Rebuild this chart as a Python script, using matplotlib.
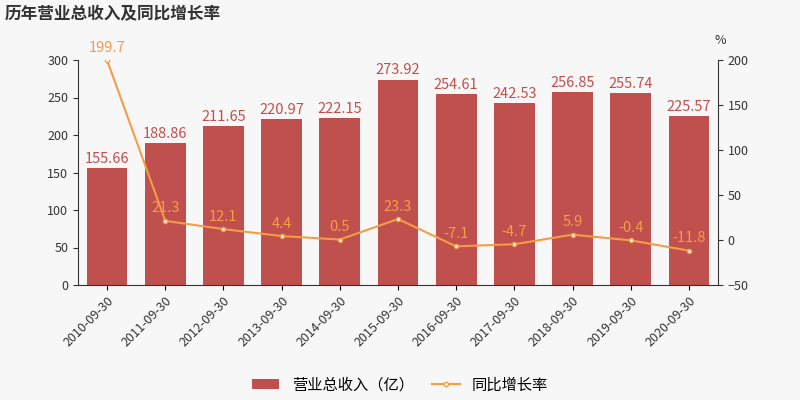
import matplotlib
matplotlib.use("Agg")
import matplotlib.pyplot as plt
import numpy as np

plt.rcParams['font.family'] = ['Noto Sans CJK SC', 'DejaVu Sans']

dates = ["2010-09-30","2011-09-30","2012-09-30","2013-09-30","2014-09-30","2015-09-30",
         "2016-09-30","2017-09-30","2018-09-30","2019-09-30","2020-09-30"]
revenue = [155.66,188.86,211.65,220.97,222.15,273.92,254.61,242.53,256.85,255.74,225.57]
growth = [199.7,21.3,12.1,4.4,0.5,23.3,-7.1,-4.7,5.9,-0.4,-11.8]

bg = "#f7f7f7"
bar_c = "#c0504d"
line_c = "#f59c47"

fig = plt.figure(figsize=(8,4), dpi=100, facecolor=bg)
ax = fig.add_axes([0.0975, 0.2875, 0.8, 0.5625], facecolor=bg)
x = np.arange(len(dates))
ax.bar(x, revenue, width=0.7, color=bar_c, label="营业总收入（亿）")
ax.set_ylim(0,300)
ax.set_yticks(range(0,301,50))
ax.set_xlim(-0.5, len(dates)-0.5)
ax.set_xticks(x)
ax.set_xticklabels(dates, rotation=45, ha="right", rotation_mode="anchor", fontsize=9, color="#333")
for xi, v in zip(x, revenue):
    ax.text(xi, v+3, f"{v:.2f}", ha="center", va="bottom", color=bar_c, fontsize=10.5)
for s in ["top","right"]:
    ax.spines[s].set_visible(False)
ax.spines["left"].set_color("#333")
ax.spines["bottom"].set_color("#333")
ax.tick_params(axis="y", labelsize=9, colors="#333")

ax2 = ax.twinx()
ax2.plot(x, growth, color=line_c, lw=1.5, marker="o", markersize=3, markerfacecolor="white",
         markeredgecolor=line_c, label="同比增长率")
ax2.set_ylim(-50,200)
ax2.set_yticks(range(-50,201,50))
for s in ["top","left","bottom"]:
    ax2.spines[s].set_visible(False)
ax2.spines["right"].set_color("#333")
ax2.tick_params(axis="y", labelsize=9, colors="#333")
for xi, v in zip(x, growth):
    ax2.text(xi, v+6, f"{v}", ha="center", va="bottom", color=line_c, fontsize=10.5)

fig.text(0.006, 0.965, "历年营业总收入及同比增长率", fontsize=12, fontweight="bold", color="#333", va="center")
fig.text(0.9, 0.9, "%", fontsize=9, color="#333", ha="center", va="center")

h1, l1 = ax.get_legend_handles_labels()
h2, l2 = ax2.get_legend_handles_labels()
fig.legend(h1+h2, l1+l2, loc="center", bbox_to_anchor=(0.5, 0.038), ncol=2, frameon=False,
           fontsize=11, handlelength=1.8, columnspacing=1.2)
fig.savefig("out.png", dpi=100, facecolor=bg)
